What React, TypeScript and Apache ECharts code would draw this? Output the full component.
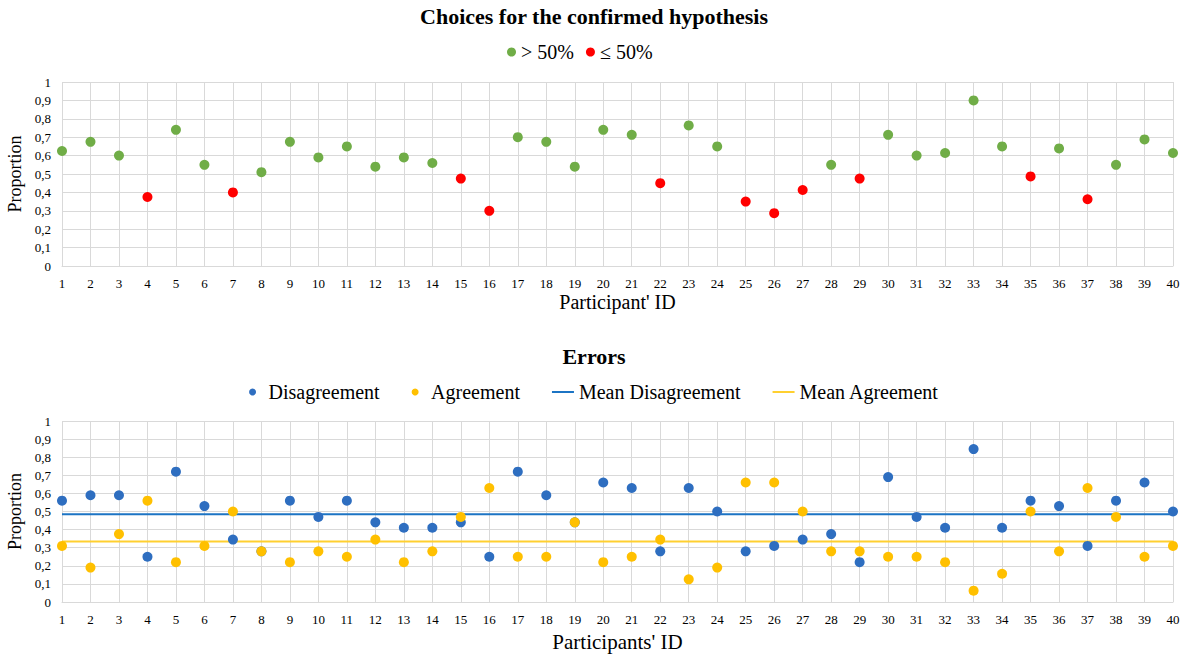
import React, { useEffect, useRef } from "react";
import * as echarts from "echarts";

const participants: string[] = [
  "1","2","3","4","5","6","7","8","9","10","11","12","13","14","15","16","17","18","19","20",
  "21","22","23","24","25","26","27","28","29","30","31","32","33","34","35","36","37","38","39","40",
];

const confirmedChoice: number[] = [
  0.625, 0.675, 0.6, 0.375, 0.74, 0.55, 0.4, 0.51, 0.675, 0.59,
  0.65, 0.54, 0.59, 0.56, 0.475, 0.3, 0.7, 0.675, 0.54, 0.74,
  0.713, 0.45, 0.764, 0.65, 0.35, 0.287, 0.413, 0.55, 0.475, 0.713,
  0.6, 0.614, 0.9, 0.65, 0.487, 0.639, 0.363, 0.55, 0.688, 0.614,
];

const disagreement: number[] = [
  0.56, 0.59, 0.59, 0.25, 0.72, 0.53, 0.345, 0.28, 0.56, 0.47,
  0.56, 0.44, 0.41, 0.41, 0.44, 0.25, 0.72, 0.59, 0.44, 0.66,
  0.63, 0.28, 0.63, 0.5, 0.28, 0.31, 0.345, 0.375, 0.22, 0.69,
  0.47, 0.41, 0.845, 0.41, 0.56, 0.53, 0.31, 0.56, 0.66, 0.5,
];

const agreement: number[] = [
  0.31, 0.19, 0.375, 0.56, 0.22, 0.31, 0.5, 0.28, 0.22, 0.28,
  0.25, 0.345, 0.22, 0.28, 0.47, 0.63, 0.25, 0.25, 0.44, 0.22,
  0.25, 0.345, 0.125, 0.19, 0.66, 0.66, 0.5, 0.28, 0.28, 0.25,
  0.25, 0.22, 0.0625, 0.156, 0.5, 0.28, 0.63, 0.47, 0.25, 0.31,
];

const meanDisagreement = 0.485;
const meanAgreement = 0.334;
const threshold = 0.5;

const FONT = "Liberation Serif";
const GREEN = "#70AD47";
const RED = "#FF0000";
const BLUE = "#2E6EC0";
const BLUE_LINE = "#1C74C4";
const YELLOW = "#FFC000";
const YELLOW_LINE = "#FFD030";
const GRID_COLOR = "#D9D9D9";
const LINE_ICON = "path://M0,0H22V2H0Z";

const fmt = (v: number) => String(Math.round(v * 10) / 10).replace(".", ",");

export default function App() {
  const ref = useRef<HTMLDivElement>(null);
  useEffect(() => {
    if (!ref.current) return;
    const chart = echarts.init(ref.current, null, { renderer: "svg" });

    const above = confirmedChoice.map((v) => (v > threshold ? v : null));
    const below = confirmedChoice.map((v) => (v <= threshold ? v : null));

    const xAxisBase = (gridIndex: number, name: string, nameSize: number, nameGap: number) => ({
      type: "category",
      gridIndex,
      data: participants,
      boundaryGap: false,
      name,
      nameLocation: "middle",
      nameGap,
      nameTextStyle: { fontFamily: FONT, fontSize: nameSize, color: "#000" },
      axisLine: { show: true, lineStyle: { color: GRID_COLOR, width: 1 } },
      axisTick: { show: false },
      axisLabel: { fontFamily: FONT, fontSize: 13, color: "#000", margin: 11, interval: 0 },
      splitLine: { show: true, lineStyle: { color: GRID_COLOR, width: 1 } },
    });
    const yAxisBase = (gridIndex: number) => ({
      type: "value",
      gridIndex,
      min: 0,
      max: 1,
      interval: 0.1,
      name: "Proportion",
      nameLocation: "middle",
      nameGap: 27,
      nameTextStyle: { fontFamily: FONT, fontSize: 18, color: "#000" },
      axisLine: { show: false },
      axisTick: { show: false },
      axisLabel: { fontFamily: FONT, fontSize: 13, color: "#000", margin: 11, formatter: fmt },
      splitLine: { show: true, lineStyle: { color: GRID_COLOR, width: 1 } },
    });

    chart.setOption({
      animation: false,
      backgroundColor: "#fff",
      textStyle: { fontFamily: FONT },
      title: [
        {
          text: "Choices for the confirmed hypothesis",
          left: "center",
          top: 0,
          textStyle: { fontFamily: FONT, fontSize: 22, fontWeight: "bold", color: "#000" },
        },
        {
          text: "Errors",
          left: "center",
          top: 340,
          textStyle: { fontFamily: FONT, fontSize: 22, fontWeight: "bold", color: "#000" },
        },
      ],
      legend: [
        {
          data: ["> 50%", "≤ 50%"],
          left: 502,
          top: 37,
          itemWidth: 9,
          itemHeight: 9,
          itemGap: 12,
          icon: "circle",
          textStyle: { fontFamily: FONT, fontSize: 20, color: "#000" },
        },
        {
          data: [
            { name: "Disagreement", icon: "circle" },
            { name: "Agreement", icon: "circle" },
            { name: "Mean Disagreement", icon: LINE_ICON },
            { name: "Mean Agreement", icon: LINE_ICON },
          ],
          left: "center",
          top: 377,
          itemWidth: 22,
          itemHeight: 7,
          itemGap: 32,
          textStyle: { fontFamily: FONT, fontSize: 20, color: "#000" },
        },
      ],
      grid: [
        { left: 62, right: 15, top: 82, height: 184, outerBoundsMode: "none" },
        { left: 62, right: 15, top: 421, height: 181, outerBoundsMode: "none" },
      ],
      xAxis: [
        xAxisBase(0, "Participant' ID", 20, 26),
        xAxisBase(1, "Participants' ID", 21, 29),
      ],
      yAxis: [yAxisBase(0), yAxisBase(1)],
      series: [
        {
          name: "> 50%",
          type: "scatter",
          xAxisIndex: 0,
          yAxisIndex: 0,
          data: above,
          symbolSize: 10,
          itemStyle: { color: GREEN, opacity: 1 },
        },
        {
          name: "≤ 50%",
          type: "scatter",
          xAxisIndex: 0,
          yAxisIndex: 0,
          data: below,
          symbolSize: 10,
          itemStyle: { color: RED, opacity: 1 },
        },
        {
          name: "Mean Disagreement",
          type: "line",
          xAxisIndex: 1,
          yAxisIndex: 1,
          data: [
            [participants[0], meanDisagreement],
            [participants[participants.length - 1], meanDisagreement],
          ],
          symbol: "none",
          lineStyle: { color: BLUE_LINE, width: 2 },
          itemStyle: { color: BLUE_LINE },
          z: 1,
        },
        {
          name: "Mean Agreement",
          type: "line",
          xAxisIndex: 1,
          yAxisIndex: 1,
          data: [
            [participants[0], meanAgreement],
            [participants[participants.length - 1], meanAgreement],
          ],
          symbol: "none",
          lineStyle: { color: YELLOW_LINE, width: 2 },
          itemStyle: { color: YELLOW_LINE },
          z: 1,
        },
        {
          name: "Disagreement",
          type: "scatter",
          xAxisIndex: 1,
          yAxisIndex: 1,
          data: disagreement,
          symbolSize: 10,
          itemStyle: { color: BLUE, opacity: 1 },
          z: 3,
        },
        {
          name: "Agreement",
          type: "scatter",
          xAxisIndex: 1,
          yAxisIndex: 1,
          data: agreement,
          symbolSize: 10,
          itemStyle: { color: YELLOW, opacity: 1 },
          z: 3,
        },
      ],
    });
    return () => chart.dispose();
  }, []);
  return (
    <div
      ref={ref}
      style={{ position: "absolute", left: 0, top: 0, width: 1188, height: 656, background: "#fff" }}
    />
  );
}
